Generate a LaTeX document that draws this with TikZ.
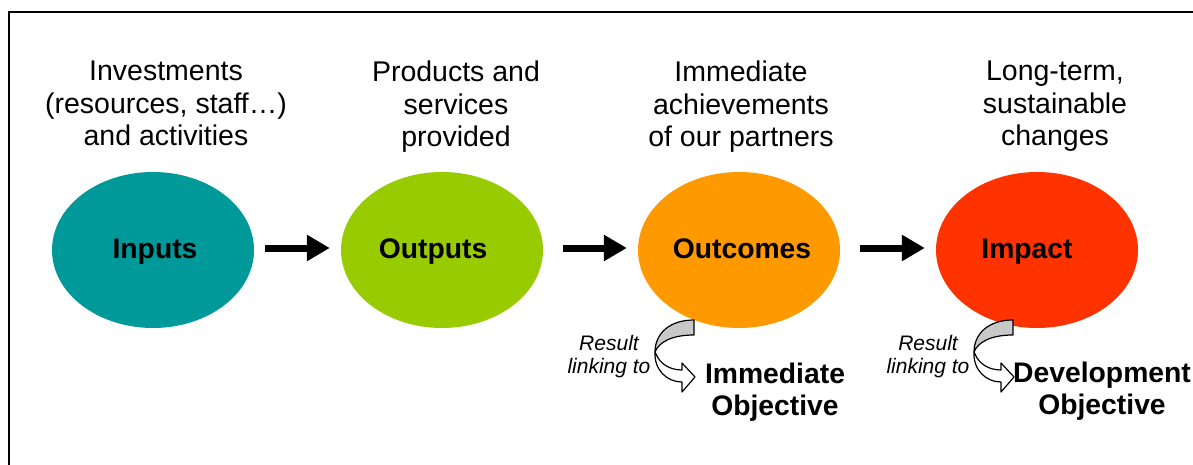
\documentclass[tikz,border=0pt]{standalone}
\usepackage{fontspec}
\setmainfont{Liberation Sans}
\usetikzlibrary{shapes.geometric,arrows.meta}

\definecolor{inputcol}{HTML}{009999}
\definecolor{outputcol}{HTML}{99CC00}
\definecolor{outcomecol}{HTML}{FF9900}
\definecolor{impactcol}{HTML}{FF3300}
\definecolor{twistgray}{HTML}{C8C8C8}

\tikzset{
  stage/.style={ellipse, minimum width=202pt, minimum height=156pt, inner sep=0pt, draw=none},
  stagelabel/.style={anchor=base, inner sep=0pt, font=\fontsize{28.3}{32}\selectfont\bfseries},
  caption/.style={anchor=north, inner sep=0pt, align=center, font=\fontsize{28.5}{32.5}\selectfont},
  flow/.style={line width=7pt, -{Triangle[length=23pt,width=25pt]}},
  linknote/.style={anchor=north, inner sep=0pt, align=center, font=\fontsize{21}{23}\selectfont\itshape},
  objective/.style={anchor=north, inner sep=0pt, align=center, font=\fontsize{28.3}{32}\selectfont\bfseries},
  pics/linkarrow/.style={code={
    % back face of the twisted ribbon
    \filldraw[fill=twistgray, line width=1.2pt, line join=round]
      (0,0) .. controls (-25,0) and (-39,14) .. (-39,32)
            .. controls (-35,22) and (-22,15) .. (0,15) -- cycle;
    % front face ending in the arrow head
    \filldraw[fill=white, line width=1.2pt, line join=round]
      (-39,32) .. controls (-40,50) and (-27,62) .. (-12,62)
      -- (-12,72) -- (1,57) -- (-12,43) -- (-12,50)
      .. controls (-24,50) and (-34,44) .. (-38,34) -- cycle;
  }}
}

\begin{document}
\begin{tikzpicture}[x=1pt,y=-1pt]
  \useasboundingbox (0,0) rectangle (1193,465);

  % frame
  \draw[line width=2pt] (8,12) -- (1193,12);
  \draw[line width=1.5pt] (9,12) -- (9,465);

  % captions above the stages
  \node[caption] (cap-in)  at (166,61)  {Investments\\(resources, staff…)\\and activities};
  \node[caption] (cap-out) at (456,61)  {Products and\\services\\provided};
  \node[caption] (cap-oc)  at (741,61)  {Immediate\\achievements\\of our partners};
  \node[caption] (cap-im)  at (1055,61) {Long-term,\\sustainable\\changes};

  % stages
  \node[stage, fill=inputcol]   (inputs)   at (153,250) {};
  \node[stage, fill=outputcol]  (outputs)  at (442,250) {};
  \node[stage, fill=outcomecol] (outcomes) at (739,250) {};
  \node[stage, fill=impactcol]  (impact)   at (1037,250) {};

  \node[stagelabel] (inputs-l)   at (155,258)  {Inputs};
  \node[stagelabel] (outputs-l)  at (433,258)  {Outputs};
  \node[stagelabel] (outcomes-l) at (742,258)  {Outcomes};
  \node[stagelabel] (impact-l)   at (1027,258) {Impact};

  % flow between stages
  \draw[flow] ([xshift=11pt,yshift=2pt]inputs.east)   -- ([xshift=-11pt,yshift=2pt]outputs.west);
  \draw[flow] ([xshift=20pt,yshift=2pt]outputs.east)  -- ([xshift=-11pt,yshift=2pt]outcomes.west);
  \draw[flow] ([xshift=20pt,yshift=2pt]outcomes.east) -- ([xshift=-11pt,yshift=2pt]impact.west);

  % result links to the objectives
  \pic at (694,320) {linkarrow};
  \pic at (1013,320) {linkarrow};

  \node[linknote] (note-oc) at (609,335) {Result\\linking to};
  \node[linknote] (note-im) at (928,335) {Result\\linking to};

  \node[objective] (obj-imm) at (775,363)  {Immediate\\Objective};
  \node[objective] (obj-dev) at (1102,362) {Development\\Objective};
\end{tikzpicture}
\end{document}
